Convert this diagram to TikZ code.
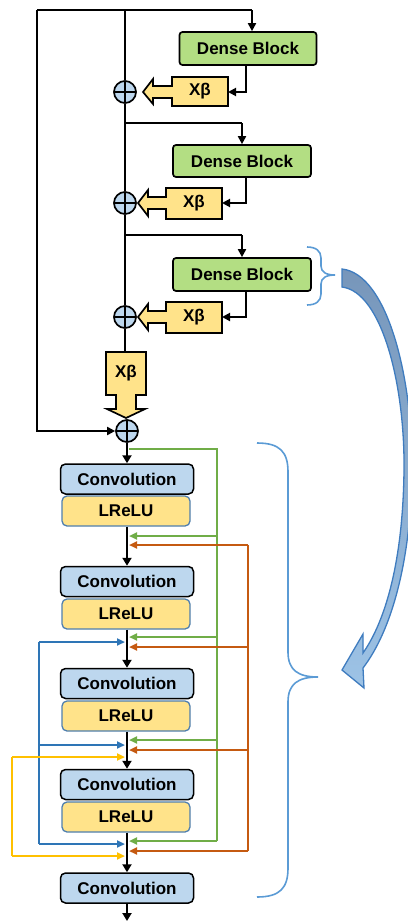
\documentclass[tikz,border=0pt]{standalone}
\usepackage{fontspec}
\setmainfont{Liberation Sans}
\usetikzlibrary{arrows.meta,calc}
\definecolor{dbgreen}{HTML}{B3DE83}
\definecolor{xbyellow}{HTML}{FFE38A}
\definecolor{convblue}{HTML}{BDD7EE}
\definecolor{lreluedge}{HTML}{4F7FAF}
\definecolor{gline}{HTML}{70AD47}
\definecolor{oline}{HTML}{C55A11}
\definecolor{bline}{HTML}{2E75B6}
\definecolor{yline}{HTML}{FFC000}
\definecolor{bracec}{HTML}{5B9BD5}
\definecolor{arrtop}{HTML}{7796BA}
\definecolor{arrbot}{HTML}{9DC3E6}
\definecolor{arredge}{HTML}{3F7CBF}

\begin{document}
\begin{tikzpicture}[x=1pt,y=-1pt,
  lbl/.style={font=\fontsize{17}{19}\selectfont\bfseries, inner sep=0pt},
  dense/.style={draw=black, line width=1.7pt, fill=dbgreen, rounded corners=3pt,
    minimum width=137pt, minimum height=33pt, lbl},
  conv/.style={draw=black, line width=1.5pt, fill=convblue, rounded corners=5pt,
    minimum width=133pt, minimum height=30pt, lbl},
  lrelu/.style={draw=lreluedge, line width=1.3pt, fill=xbyellow, rounded corners=5pt,
    minimum width=128pt, minimum height=30pt, lbl},
  xbshape/.style={draw=black, line width=1.7pt, fill=xbyellow, line join=miter},
  plus/.style={circle, draw=black, line width=1.7pt, fill=convblue, minimum size=22pt,
    inner sep=0pt, path picture={\draw[line width=1.7pt]
      (path picture bounding box.north) -- (path picture bounding box.south)
      (path picture bounding box.west) -- (path picture bounding box.east);}},
  mainln/.style={line width=2.9pt, black},
  thinln/.style={line width=1.9pt, black},
  feed/.style={line width=1.9pt, black, -{Triangle[length=8pt,width=8pt]}},
  mfeed/.style={line width=2.6pt, black, -{Triangle[length=8pt,width=9pt]}},
  cbus/.style={line width=2.5pt},
  carr/.style={line width=2.4pt, -{Triangle[length=8pt,width=7pt]}},
  bracestyle/.style={draw=bracec, line width=1.6pt}
]
\useasboundingbox (0,0) rectangle (407,921);

% ---------- residual-in-residual dense part ----------
\node[dense] (db1) at (248,48.5) {Dense Block};
\node[dense, minimum width=138pt, minimum height=32pt] (db2) at (242,161) {Dense Block};
\node[dense, minimum width=138pt] (db3) at (242,274.5) {Dense Block};

\node[plus] (p1) at (125,92) {};
\node[plus] (p2) at (125,203) {};
\node[plus] (p3) at (125,317) {};
\node[plus] (p4) at (127,431) {};

% scaling callouts (box with a left-pointing arrow)
\draw[xbshape] (228,77) -- (172,77) -- (172,86) -- (153,86) -- (153,79) -- (143,92)
  -- (153,104) -- (153,98) -- (172,98) -- (172,106) -- (228,106) -- cycle;
\node[lbl] (xb1) at (200,91.5) {Xβ};
\draw[xbshape] (222,188) -- (166,188) -- (166,197) -- (148,197) -- (148,190) -- (138,203)
  -- (148,216) -- (148,209) -- (166,209) -- (166,219) -- (222,219) -- cycle;
\node[lbl] (xb2) at (194,203.5) {Xβ};
\draw[xbshape] (222,302) -- (166,302) -- (166,311) -- (148,311) -- (148,304) -- (138,317)
  -- (148,330) -- (148,323) -- (166,323) -- (166,333) -- (222,333) -- cycle;
\node[lbl] (xb3) at (194,317.5) {Xβ};
% downward callout
\draw[xbshape] (106,352) -- (146,352) -- (146,395) -- (136,395) -- (136,409) -- (145,409)
  -- (126,418) -- (107,409) -- (116,409) -- (116,395) -- (106,395) -- cycle;
\node[lbl] (xb4) at (126,373.5) {Xβ};
\coordinate (xb4top) at (125,352);

% trunk and skip connections
\coordinate (tl) at (37,10);
\coordinate (tm) at (125,10);
\coordinate (t1) at (252,10);
\coordinate (b2) at (125,123);
\coordinate (b3) at (125,235);
\draw[mainln] (tm) -- (p1) (p1) -- (p2) (p2) -- (p3) (p3) -- (xb4top);
\draw[thinln] (tl) -- (t1);
\draw[feed] (t1) -- (t1 |- db1.north);
\draw[feed] (tl) |- (p4);
\draw[thinln] (b2) -- (242,123);
\draw[feed] (242,123) -- (db2.north);
\draw[thinln] (b3) -- (242,235);
\draw[feed] (242,235) -- (db3.north);
\draw[feed] ($(db1.south)+(-2,0)$) |- (228,92);
\draw[feed] ($(db2.south)+(4,0)$) |- (222,203);
\draw[feed] ($(db3.south)+(4,0)$) |- (222,317);

% ---------- dense block detail ----------
\node[conv]  (c1) at (127,479) {Convolution};
\node[lrelu] (l1) at (126,511) {LReLU};
\node[conv]  (c2) at (127,581.5) {Convolution};
\node[lrelu] (l2) at (126,614) {LReLU};
\node[conv]  (c3) at (127,683.5) {Convolution};
\node[lrelu] (l3) at (126,716) {LReLU};
\node[conv]  (c4) at (127,784.5) {Convolution};
\node[lrelu] (l4) at (126,817) {LReLU};
\node[conv]  (c5) at (127,888) {Convolution};
\coordinate (outp) at (127,921);

\draw[mfeed] (p4) -- (c1);
\draw[mfeed] (l1.south -| c1) -- (c2);
\draw[mfeed] (l2.south -| c2) -- (c3);
\draw[mfeed] (l3.south -| c3) -- (c4);
\draw[mfeed] (l4.south -| c4) -- (c5);
\draw[mfeed] (c5) -- (outp);

% green: block input to every later stage
\draw[cbus, gline] (129,449) -- (217,449) -- (217,841);
\foreach \y in {536,637,740,841} \draw[carr, gline] (217,\y) -- (129,\y);
% orange: output of first stage
\draw[cbus, oline] (248,545) -- (248,851);
\foreach \y in {545,647,750,851} \draw[carr, oline] (248,\y) -- (129,\y);
% blue: output of second stage
\draw[cbus, bline] (39,642) -- (39,844);
\foreach \y in {642,745,844} \draw[carr, bline] (39,\y) -- (125,\y);
% yellow: output of third stage
\draw[cbus, yline] (12,757) -- (12,856);
\foreach \y in {757,856} \draw[carr, yline] (12,\y) -- (125,\y);

% ---------- braces and the zoom arrow ----------
\draw[bracestyle] (307,247) .. controls (316,247) and (321,251) .. (321,258) -- (321,266)
  .. controls (321,272) and (326,275) .. (335,275)
  .. controls (326,275) and (321,278) .. (321,284) -- (321,294)
  .. controls (321,301) and (316,305) .. (307,305);
\draw[bracestyle] (257,443) .. controls (280,443) and (288,452) .. (288,472) -- (288,652)
  .. controls (288,670) and (298,677) .. (318,677)
  .. controls (298,677) and (288,684) .. (288,702) -- (288,868)
  .. controls (288,888) and (280,897) .. (257,897);

\draw[draw=arredge, line width=1.3pt, top color=arrtop, bottom color=arrbot]
  (342,269) .. controls (388,274) and (413,380) .. (412,470)
  .. controls (411,560) and (392,630) .. (363,668)
  -- (364,688) -- (342,670) -- (363,634) -- (363,653)
  .. controls (386,620) and (403,560) .. (404,470)
  .. controls (405,385) and (382,292) .. (342,287) -- cycle;
\end{tikzpicture}
\end{document}
